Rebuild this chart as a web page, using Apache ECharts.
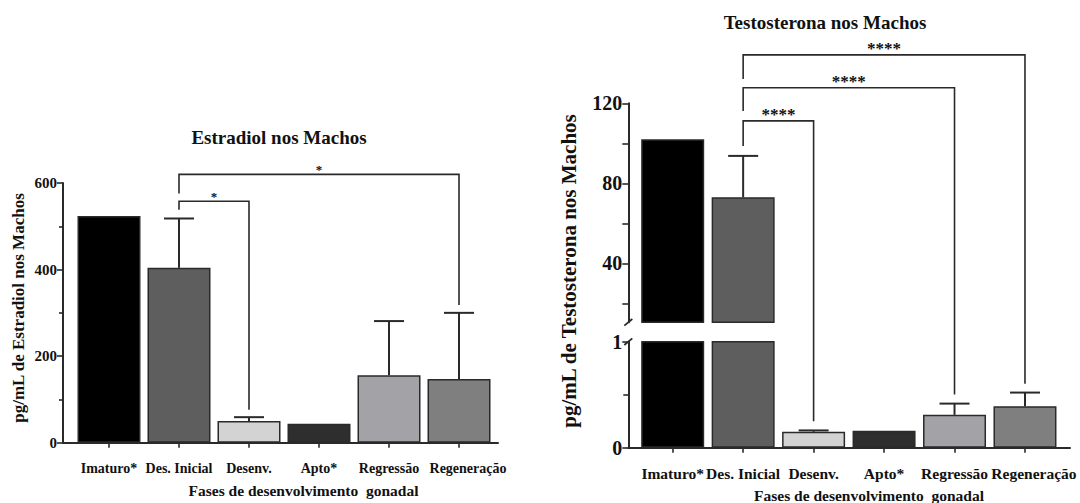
<!DOCTYPE html>
<html><head><meta charset="utf-8">
<script src="https://cdn.jsdelivr.net/npm/echarts@6/dist/echarts.min.js"></script>
<style>html,body{margin:0;padding:0;background:#fff}#c{width:1080px;height:503px}</style>
</head><body><div id="c"></div>
<script>
// ---- data ----
const categories = ['Imaturo*', 'Des. Inicial', 'Desenv.', 'Apto*', 'Regressão', 'Regeneração'];
const estradiolMean = [524, 404, 50, 44, 156, 147];
const estradiolErr  = [0, 114, 9, 0, 125, 153];
const testoMean = [102, 73, 0.15, 0.16, 0.31, 0.39];
const testoErr  = [0, 20.7, 0.013, 0, 0.106, 0.13];
const estradiolTicks = [0, 200, 400, 600];
const testoUpperTicks = [40, 80, 120];
const testoUpperMinorTicks = [20, 60, 100];
const testoLowerTicks = [0, 1];
const estradiolComparisons = [
  { from: 1, to: 5, y: 620, fromEnd: 576, toEnd: 318, label: '*' },
  { from: 1, to: 2, y: 558, fromEnd: 538, toEnd: 76, label: '*' }
];
// bracket & left leg in upper-segment units, right leg in lower-segment units
const testoComparisons = [
  { from: 1, to: 5, y: 144.2, fromEnd: 132.2, toEnd: 0.604, label: '****' },
  { from: 1, to: 4, y: 127.8, fromEnd: 116.2, toEnd: 0.503, label: '****' },
  { from: 1, to: 2, y: 111.2, fromEnd: 98.6, toEnd: 0.25, label: '****' }
];
const upperMin = 10.5, upperMax = 120;

// ---- styles ----
const FONT = 'Liberation Serif, Times New Roman, serif';
const barColors = ['#000000', '#5e5e5e', '#d3d3d3', '#2e2e2e', '#a3a3a7', '#7f7f7f'];
const ink = '#2a2a2a';
const axisLine = { show: true, onZero: false, lineStyle: { color: ink, width: 2 } };
const tickStyle = { color: ink, width: 1.6 };
const idx = categories.map((c, i) => i);

const chart = echarts.init(document.getElementById('c'), null, { renderer: 'svg' });

function bars(means, xi, yi, keep) {
  return {
    type: 'bar', xAxisIndex: xi, yAxisIndex: yi, barWidth: 63, animation: false,
    data: means.map((v, i) => ({ value: [i, v], itemStyle: { color: barColors[i] } })).filter(d => keep(d.value[1])),
    itemStyle: { borderColor: ink, borderWidth: 1.5 }, clip: true
  };
}
function errors(means, errs, xi, yi, lo, hi) {
  return {
    type: 'custom', xAxisIndex: xi, yAxisIndex: yi, animation: false, z: 3,
    data: means.map((m, i) => [i, m, m + errs[i]]).filter(d => errs[d[0]] > 0 && d[1] >= lo && d[1] <= hi),
    renderItem: (params, api) => {
      const x = api.value(0);
      const b = api.coord([x, api.value(1)]);
      const t = api.coord([x, api.value(2)]);
      const hw = 15;
      return { type: 'group', children: [
        { type: 'line', shape: { x1: b[0], y1: b[1], x2: t[0], y2: t[1] }, style: { stroke: ink, lineWidth: 2 } },
        { type: 'line', shape: { x1: t[0] - hw, y1: t[1], x2: t[0] + hw, y2: t[1] }, style: { stroke: ink, lineWidth: 2 } }
      ] };
    }
  };
}
const lblBase = { fontFamily: FONT, fontWeight: 'bold', color: '#111', hideOverlap: false, showMinLabel: true, showMaxLabel: true };
function catLabel(size, margin) {
  return { customValues: idx, fontSize: size, margin, ...lblBase,
    formatter: v => { const i = Math.round(v); return i === categories.length - 1 ? '{s|' + categories[i] + '}' : categories[i]; },
    rich: { s: { fontFamily: FONT, fontWeight: 'bold', fontSize: size, color: '#111', padding: [0, 0, 0, 18] } } };
}

const option = {
  animation: false,
  grid: [
    { left: 63, right: 1080 - 498, top: 183, bottom: 503 - 442.7 },
    { left: 628.3, right: 10, top: 103.3, bottom: 503 - 322.3 },
    { left: 628.3, right: 10, top: 341.7, bottom: 503 - 447.7 }
  ],
  xAxis: [
    { gridIndex: 0, type: 'value', min: -0.657, max: 5.557, axisLine,
      axisTick: { show: true, customValues: idx, length: 5, lineStyle: tickStyle },
      axisLabel: catLabel(14, 19), splitLine: { show: false } },
    { gridIndex: 1, type: 'value', min: -0.630, max: 5.639, show: false, splitLine: { show: false } },
    { gridIndex: 2, type: 'value', min: -0.630, max: 5.639, axisLine,
      axisTick: { show: true, customValues: idx, length: 5, lineStyle: tickStyle },
      axisLabel: catLabel(15.5, 18), splitLine: { show: false } }
  ],
  yAxis: [
    { gridIndex: 0, type: 'value', min: 0, max: 600, interval: 200, axisLine,
      axisTick: { show: true, length: 6, lineStyle: tickStyle },
      minorTick: { show: true, splitNumber: 2, length: 4, lineStyle: tickStyle },
      axisLabel: { customValues: estradiolTicks, fontSize: 15, margin: 6, ...lblBase },
      splitLine: { show: false }, minorSplitLine: { show: false } },
    { gridIndex: 1, type: 'value', min: upperMin, max: upperMax, axisLine,
      axisTick: { show: true, customValues: testoUpperTicks.concat(testoUpperMinorTicks), length: 6, lineStyle: tickStyle },
      axisLabel: { customValues: testoUpperTicks, fontSize: 20, margin: 6, ...lblBase },
      splitLine: { show: false } },
    { gridIndex: 2, type: 'value', min: 0, max: 1, interval: 1, axisLine,
      axisTick: { show: true, length: 6, lineStyle: tickStyle },
      minorTick: { show: true, splitNumber: 2, length: 5, lineStyle: tickStyle },
      axisLabel: { customValues: testoLowerTicks, fontSize: 20, margin: 6, ...lblBase },
      splitLine: { show: false }, minorSplitLine: { show: false } }
  ],
  series: [
    bars(estradiolMean, 0, 0, () => true),
    errors(estradiolMean, estradiolErr, 0, 0, 0, 600),
    bars(testoMean, 1, 1, v => v > upperMin),
    errors(testoMean, testoErr, 1, 1, upperMin, upperMax),
    bars(testoMean, 2, 2, () => true),
    errors(testoMean, testoErr, 2, 2, 0, 1)
  ]
};
chart.setOption(option);

// ---- annotations ----
const P = (g, x, y) => chart.convertToPixel({ gridIndex: g }, [x, y]);
const g = [];
function txt(text, x, y, size, rot) {
  g.push({ type: 'text', x, y, rotation: rot || 0, silent: true,
    style: { text, fontFamily: FONT, fontWeight: 'bold', fontSize: size, fill: '#111', align: 'center', verticalAlign: 'middle' } });
}
function bracket(p1, p2, p3, p4, label, size, lift) {
  g.push({ type: 'polyline', silent: true, shape: { points: [p1, p2, p3, p4] }, style: { stroke: ink, lineWidth: 1.6, fill: null } });
  txt(label, (p2[0] + p3[0]) / 2, p2[1] - lift, size);
}
estradiolComparisons.forEach(c => bracket(P(0, c.from, c.fromEnd), P(0, c.from, c.y), P(0, c.to, c.y), P(0, c.to, c.toEnd), c.label, 13, 4.5));
testoComparisons.forEach(c => bracket(P(1, c.from, c.fromEnd), P(1, c.from, c.y), P(1, c.to, c.y), P(2, c.to, c.toEnd), c.label, 17, 6));
// axis break marks
const a = P(1, -0.630, upperMin), b = P(2, -0.630, 1);
[a, b].forEach(p => g.push({ type: 'line', silent: true, shape: { x1: p[0] - 4, y1: p[1] + 3.3, x2: p[0] + 4, y2: p[1] - 3.3 }, style: { stroke: ink, lineWidth: 1.8 } }));
// titles & axis names
txt('Estradiol nos Machos', 279, 137, 19);
txt('Testosterona nos Machos', 825, 22, 19);
txt('pg/mL de Estradiol nos Machos', 18, 308, 17, Math.PI / 2);
txt('pg/mL de Testosterona nos Machos', 569, 271, 21, Math.PI / 2);
txt('Fases de desenvolvimento  gonadal', 303.5, 490, 15.5);
txt('Fases de desenvolvimento  gonadal', 869, 495.5, 15.5);
chart.setOption({ graphic: g });
</script></body></html>
